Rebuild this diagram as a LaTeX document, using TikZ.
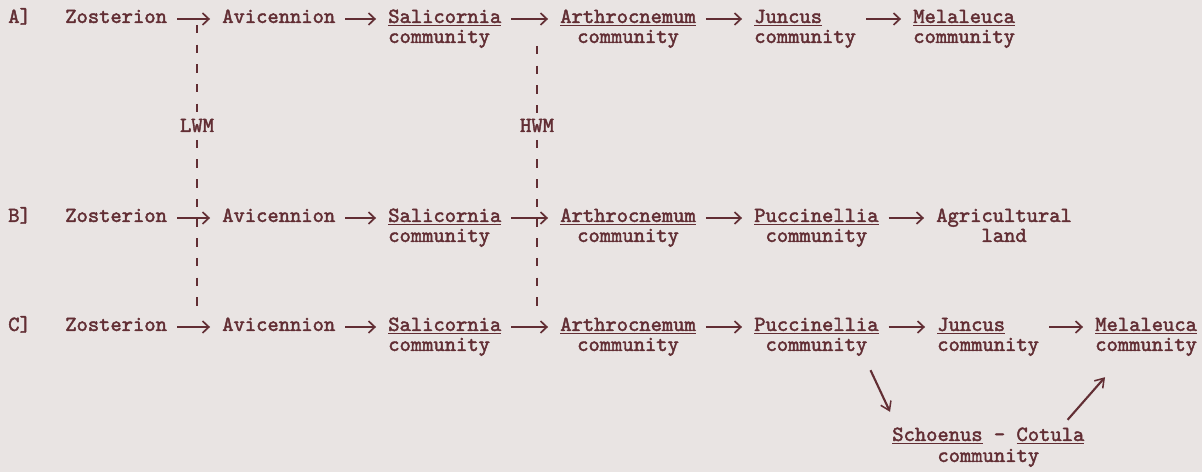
\documentclass[tikz,border=0pt]{standalone}
\usepackage{fontspec}
\setmonofont{lmmono10-regular.otf}[UprightFeatures={FakeBold=2}]
\usetikzlibrary{arrows.meta,calc}

\definecolor{ink}{RGB}{98,46,52}
\definecolor{paper}{RGB}{233,228,227}

\newcommand{\genus}[1]{\setbox0\hbox{#1}\rlap{\rule[-2.4pt]{\wd0}{1.2pt}}\box0\relax}

\begin{document}
\begin{tikzpicture}[x=0.025cm,y=-0.025cm,color=ink,
    font=\ttfamily\fontsize{15.3}{18}\selectfont,
    word/.style={anchor=west,inner sep=0pt,text height=7pt,text depth=1.4pt},
    subline/.style={word,anchor=center},
    tidelabel/.style={subline,inner sep=4pt},
    arr/.style={-{Straight Barb[length=4.5pt,width=8.5pt,line width=1.2pt]},line width=1.9pt,shorten <=7pt,shorten >=8.5pt},
    slant/.style={-{Straight Barb[length=6pt,width=8pt,line width=1.1pt]},line width=1.5pt},
    tide/.style={line width=1.4pt,dash pattern=on 6pt off 8pt}]
    \fill[paper] (0,0) rectangle (1202,472);
    \useasboundingbox (0,0) rectangle (1202,472);

    \foreach \r/\y in {A/19,B/218,C/327} {
        \node[word] (lab\r) at (8,\y) {\r]};
        \node[word] (zos\r) at (65,\y) {Zosterion};
        \node[word] (avi\r) at (222,\y) {Avicennion};
        \node[word] (sal\r) at (388,\y) {\genus{Salicornia}};
        \node[word] (sal\r-c) at (388,\y+20) {community};
        \node[word] (art\r) at (560,\y) {\genus{Arthrocnemum}};
        \node[subline] (art\r-c) at ($(art\r)+(0,20)$) {community};
        \draw[arr] (zos\r) -- (avi\r);
        \draw[arr] (avi\r) -- (sal\r);
        \draw[arr] (sal\r) -- (art\r);
    }

    % A
    \node[word] (junA) at (754,19) {\genus{Juncus}};
    \node[word] (junA-c) at (754,39) {community};
    \node[word] (melA) at (913,19) {\genus{Melaleuca}};
    \node[word] (melA-c) at (913,39) {community};
    \draw[arr] (artA) -- (junA);
    \draw[arr] (junA-c.east |- junA) -- (melA);

    % B
    \node[word] (pucB) at (754,218) {\genus{Puccinellia}};
    \node[subline] (pucB-c) at ($(pucB)+(0,20)$) {community};
    \node[word] (agrB) at (936,218) {Agricultural};
    \node[subline] (agrB-c) at ($(agrB)+(0,20)$) {land};
    \draw[arr] (artB) -- (pucB);
    \draw[arr] (pucB) -- (agrB);

    % C
    \node[word] (pucC) at (754,327) {\genus{Puccinellia}};
    \node[subline] (pucC-c) at ($(pucC)+(0,20)$) {community};
    \node[word] (junC) at (937,327) {\genus{Juncus}};
    \node[word] (junC-c) at (937,347) {community};
    \node[word] (melC) at (1095,327) {\genus{Melaleuca}};
    \node[word] (melC-c) at (1095,347) {community};
    \draw[arr] (artC) -- (pucC);
    \draw[arr] (pucC) -- (junC);
    \draw[arr] (junC-c.east |- junC) -- (melC);

    \node[word] (schCot) at (892,437) {\genus{Schoenus} - \genus{Cotula}};
    \node[subline] (schCot-c) at ($(schCot)+(0,21)$) {community};
    \draw[slant] ($(pucC-c.south east)+(3,17)$) -- ($(schCot.north west)+(-2,-19)$);
    \draw[slant] ($(schCot.north east)+(-17,-11)$) -- ($(melC-c.south west)+(10,24)$);

    % tide marks
    \coordinate (lwmTop) at (197,25);
    \coordinate (lwmBot) at (197,314);
    \node[tidelabel] (lwm) at (197,128) {LWM};
    \draw[tide] (lwmTop) -- (lwm) -- (lwmBot);
    \coordinate (hwmTop) at (537,46);
    \coordinate (hwmBot) at (537,314);
    \node[tidelabel] (hwm) at (537,128) {HWM};
    \draw[tide] (hwmTop) -- (hwm) -- (hwmBot);
\end{tikzpicture}
\end{document}
